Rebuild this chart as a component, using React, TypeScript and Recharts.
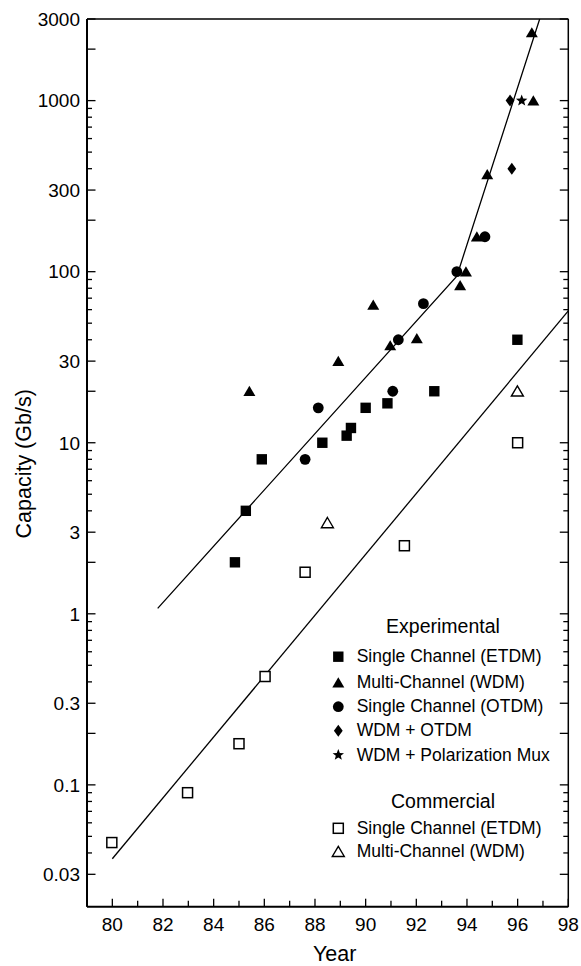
import React from 'react';
import { ScatterChart, Scatter, XAxis, YAxis, Legend } from 'recharts';

// ---------- data ----------
const expEtdmYears = [84.84, 85.27, 85.9, 88.29, 89.25, 89.42, 90.0, 90.86, 92.71, 95.99];
const expEtdmCapacity = [2, 4, 8, 10, 11, 12.2, 16, 17, 20, 40];

const expWdmYears = [85.41, 88.92, 90.3, 90.97, 92.02, 93.73, 93.96, 94.39, 94.8, 96.62, 96.56];
const expWdmCapacity = [20, 30, 64, 37, 40.7, 83, 100, 160, 370, 1000, 2500];

const expOtdmYears = [87.61, 88.13, 91.07, 91.29, 92.28, 93.6, 94.71];
const expOtdmCapacity = [8, 16, 20, 40, 65, 100, 160];

const wdmOtdmYears = [95.7, 95.77];
const wdmOtdmCapacity = [1000, 400];

const wdmPolYears = [96.16];
const wdmPolCapacity = [1000];

const comEtdmYears = [79.98, 82.97, 85.0, 86.03, 87.61, 91.53, 96.0];
const comEtdmCapacity = [0.046, 0.09, 0.174, 0.43, 1.75, 2.5, 10];

const comWdmYears = [88.49, 95.99];
const comWdmCapacity = [3.4, 20];

const expTrendYears = [81.79, 93.6, 96.87];
const expTrendCapacity = [1.076, 94.2, 3000];

const comTrendYears = [80, 98];
const comTrendCapacity = [0.037, 59];

const xTicks = [79, 80, 81, 82, 83, 84, 85, 86, 87, 88, 89, 90, 91, 92, 93, 94, 95, 96, 97, 98];
const yTickLabels = [0.03, 0.1, 0.3, 1, 3, 10, 30, 100, 300, 1000, 3000];
const yMantissas = [1, 2, 3, 4, 5, 6, 7, 8, 9];
const yDecades = [0.01, 0.1, 1, 10, 100, 1000];

const legendExperimental = [
  'Single Channel (ETDM)',
  'Multi-Channel (WDM)',
  'Single Channel (OTDM)',
  'WDM + OTDM',
  'WDM + Polarization Mux',
];
const legendCommercial = ['Single Channel (ETDM)', 'Multi-Channel (WDM)'];

// ---------- helpers ----------
const FONT = '"Liberation Sans", Arial, Helvetica, sans-serif';
const X_DOMAIN: [number, number] = [79, 98];
const Y_DOMAIN: [number, number] = [0.0194, 3000];

const toPoints = (xs: number[], ys: number[]) => xs.map((x, i) => ({ x, y: ys[i] }));

const yTicks: number[] = [];
yDecades.forEach((d) =>
  yMantissas.forEach((m) => {
    const v = Number((m * d).toPrecision(6));
    if (v >= 0.03 && v <= 3000) yTicks.push(v);
  })
);
const mantissaOf = (v: number) => Math.round(v / Math.pow(10, Math.floor(Math.log10(v) + 1e-9)));
const isLabel = (v: number) => yTickLabels.some((t) => Math.abs(t - v) / t < 1e-6);

// ---------- marker shapes ----------
const FilledSquare = (p: any) => <rect x={p.cx - 5.2} y={p.cy - 5.2} width={10.4} height={10.4} fill="#000" />;
const OpenSquare = (p: any) => (
  <rect x={p.cx - 5} y={p.cy - 5} width={10} height={10} fill="#fff" stroke="#000" strokeWidth={1.5} />
);
const triPts = (cx: number, cy: number) => `${cx},${cy - 5.4} ${cx + 6},${cy + 4.8} ${cx - 6},${cy + 4.8}`;
const FilledTriangle = (p: any) => <polygon points={triPts(p.cx, p.cy)} fill="#000" />;
const OpenTriangle = (p: any) => (
  <polygon points={triPts(p.cx, p.cy)} fill="#fff" stroke="#000" strokeWidth={1.4} strokeLinejoin="miter" />
);
const FilledCircle = (p: any) => <circle cx={p.cx} cy={p.cy} r={5.4} fill="#000" />;
const FilledDiamond = (p: any) => (
  <polygon points={`${p.cx},${p.cy - 6} ${p.cx + 4.4},${p.cy} ${p.cx},${p.cy + 6} ${p.cx - 4.4},${p.cy}`} fill="#000" />
);
const starPts = (cx: number, cy: number) => {
  const pts: string[] = [];
  for (let i = 0; i < 10; i++) {
    const r = i % 2 === 0 ? 6 : 2.6;
    const a = -Math.PI / 2 + (i * Math.PI) / 5;
    pts.push(`${cx + r * Math.cos(a)},${cy + r * Math.sin(a)}`);
  }
  return pts.join(' ');
};
const FilledStar = (p: any) => <polygon points={starPts(p.cx, p.cy)} fill="#000" />;
const NoMarker = () => <g />;

// ---------- ticks ----------
const BottomTick = (p: any) => {
  const v = p.payload.value;
  const major = v % 2 === 0;
  return (
    <g>
      <line x1={p.x} x2={p.x} y1={p.y} y2={p.y - (major ? 8 : 6)} stroke="#000" strokeWidth={1.3} />
      {major && (
        <text x={p.x} y={p.y + 24} textAnchor="middle" fontSize={19} fontFamily={FONT} fill="#000">
          {v}
        </text>
      )}
    </g>
  );
};
const TopTick = (p: any) => {
  const v = p.payload.value;
  const major = v % 2 === 0;
  return <line x1={p.x} x2={p.x} y1={p.y} y2={p.y + (major ? 8.5 : 6)} stroke="#000" strokeWidth={1.2} />;
};
const LeftTick = (p: any) => {
  const v = p.payload.value;
  const m = mantissaOf(v);
  const len = m <= 3 ? 8.5 : 5;
  return (
    <g>
      <line x1={p.x} x2={p.x + len} y1={p.y} y2={p.y} stroke="#000" strokeWidth={1.3} />
      {isLabel(v) && (
        <text x={p.x - 7} y={p.y + 6.8} textAnchor="end" fontSize={19} fontFamily={FONT} fill="#000">
          {String(v)}
        </text>
      )}
    </g>
  );
};
const RightTick = (p: any) => {
  const m = mantissaOf(p.payload.value);
  const len = m <= 3 ? 8.5 : 5;
  return <line x1={p.x} x2={p.x - len} y1={p.y} y2={p.y} stroke="#000" strokeWidth={1.3} />;
};

// ---------- legend ----------
const legendShapesExp = [FilledSquare, FilledTriangle, FilledCircle, FilledDiamond, FilledStar];
const legendShapesCom = [OpenSquare, OpenTriangle];
const expRowCenters = [58.7, 84.7, 108.7, 132.7, 157];
const comRowCenters = [230.3, 253.7];

const LegendContent = () => (
  <svg width={260} height={290} style={{ display: 'block', overflow: 'visible' }}>
    <text x={135} y={34.5} textAnchor="middle" fontSize={19.5} fontFamily={FONT} fill="#000">
      Experimental
    </text>
    {legendExperimental.map((label, i) => {
      const Shape = legendShapesExp[i];
      return (
        <g key={'e' + i}>
          <Shape cx={30.3} cy={expRowCenters[i]} />
          <text x={48.7} y={expRowCenters[i] + 5.6} fontSize={17.5} fontFamily={FONT} fill="#000">
            {label}
          </text>
        </g>
      );
    })}
    <text x={135} y={210.3} textAnchor="middle" fontSize={19.5} fontFamily={FONT} fill="#000">
      Commercial
    </text>
    {legendCommercial.map((label, i) => {
      const Shape = legendShapesCom[i];
      return (
        <g key={'c' + i}>
          <Shape cx={30.3} cy={comRowCenters[i]} />
          <text x={48.7} y={comRowCenters[i] + 5.6} fontSize={17.5} fontFamily={FONT} fill="#000">
            {label}
          </text>
        </g>
      );
    })}
  </svg>
);

const YTitle = (props: any) => {
  const vb = props.viewBox;
  const cx = vb.x + 23.5;
  const cy = vb.y + vb.height / 2 + 1;
  return (
    <text x={cx} y={cy} transform={`rotate(-90, ${cx}, ${cy})`} textAnchor="middle" fontSize={21.5} fontFamily={FONT} fill="#000">
      Capacity (Gb/s)
    </text>
  );
};
const XTitle = (props: any) => {
  const vb = props.viewBox;
  return (
    <text x={vb.x + vb.width / 2 + 7} y={vb.y + 54.3} textAnchor="middle" fontSize={21.5} fontFamily={FONT} fill="#000">
      Year
    </text>
  );
};

export default function App() {
  return (
    <div style={{ width: 581, height: 966, position: 'relative', background: '#fff' }}>
      <style>{'html,body{margin:0;padding:0;overflow:hidden;}'}</style>
      <ScatterChart width={581} height={966} margin={{ top: 18, right: 11.7, bottom: 0, left: 8 }}>
        <XAxis
          xAxisId={0}
          dataKey="x"
          type="number"
          domain={X_DOMAIN}
          ticks={xTicks}
          interval={0}
          allowDataOverflow
          height={59.3}
          tickSize={0}
          tickMargin={0}
          tickLine={false}
          tick={<BottomTick />}
          axisLine={{ stroke: '#000', strokeWidth: 2 }}
          label={<XTitle />}
        />
        <XAxis
          xAxisId="top"
          orientation="top"
          type="number"
          domain={X_DOMAIN}
          ticks={xTicks}
          interval={0}
          allowDataOverflow
          height={1}
          tickSize={0}
          tickMargin={0}
          tickLine={false}
          tick={<TopTick />}
          axisLine={{ stroke: '#000', strokeWidth: 1.3 }}
        />
        <YAxis
          yAxisId={0}
          dataKey="y"
          type="number"
          scale="log"
          domain={Y_DOMAIN}
          ticks={yTicks}
          interval={0}
          allowDataOverflow
          width={79}
          tickSize={0}
          tickMargin={0}
          tickLine={false}
          tick={<LeftTick />}
          axisLine={{ stroke: '#000', strokeWidth: 2 }}
          label={<YTitle />}
        />
        <YAxis
          yAxisId="right"
          orientation="right"
          type="number"
          scale="log"
          domain={Y_DOMAIN}
          ticks={yTicks}
          interval={0}
          allowDataOverflow
          width={1}
          tickSize={0}
          tickMargin={0}
          tickLine={false}
          tick={<RightTick />}
          axisLine={{ stroke: '#000', strokeWidth: 1.5 }}
        />
        <Scatter
          data={toPoints(comTrendYears, comTrendCapacity)}
          line={{ stroke: '#000', strokeWidth: 1.3 }}
          shape={<NoMarker />}
          isAnimationActive={false}
          legendType="none"
        />
        <Scatter
          data={toPoints(expTrendYears, expTrendCapacity)}
          line={{ stroke: '#000', strokeWidth: 1.3 }}
          shape={<NoMarker />}
          isAnimationActive={false}
          legendType="none"
        />
        <Scatter data={toPoints(expEtdmYears, expEtdmCapacity)} shape={<FilledSquare />} isAnimationActive={false} />
        <Scatter data={toPoints(expWdmYears, expWdmCapacity)} shape={<FilledTriangle />} isAnimationActive={false} />
        <Scatter data={toPoints(expOtdmYears, expOtdmCapacity)} shape={<FilledCircle />} isAnimationActive={false} />
        <Scatter data={toPoints(wdmOtdmYears, wdmOtdmCapacity)} shape={<FilledDiamond />} isAnimationActive={false} />
        <Scatter data={toPoints(wdmPolYears, wdmPolCapacity)} shape={<FilledStar />} isAnimationActive={false} />
        <Scatter data={toPoints(comEtdmYears, comEtdmCapacity)} shape={<OpenSquare />} isAnimationActive={false} />
        <Scatter data={toPoints(comWdmYears, comWdmCapacity)} shape={<OpenTriangle />} isAnimationActive={false} />
        <Legend
          layout="vertical"
          align="center"
          verticalAlign="middle"
          content={<LegendContent />}
          wrapperStyle={{ position: 'absolute', left: 308, top: 598, width: 260, height: 290, margin: 0, padding: 0 }}
        />
      </ScatterChart>
    </div>
  );
}
